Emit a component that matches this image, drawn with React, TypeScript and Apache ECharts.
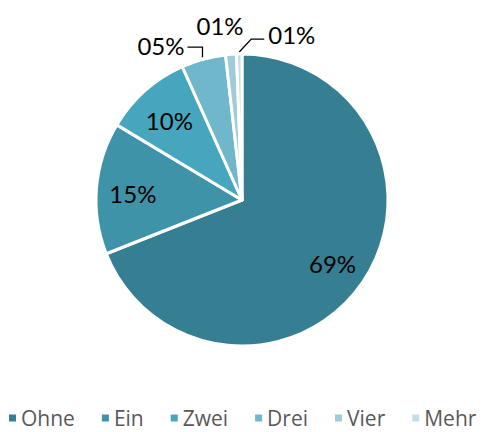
import React, { useEffect, useRef } from "react";
import * as echarts from "echarts";

const categories = ["Ohne", "Ein", "Zwei", "Drei", "Vier", "Mehr"];
const values = [69.0, 14.6, 9.7, 4.9, 1.2, 0.6];
const colors = ["#367e91", "#3e93a9", "#46a6bd", "#70b7cc", "#9fcbdb", "#c4dee7"];

const CX = 242;
const CY = 200;
const R = 146;

function midAngle(i: number): number {
  const total = values.reduce((a, b) => a + b, 0);
  let before = 0;
  for (let k = 0; k < i; k++) before += values[k];
  return ((before + values[i] / 2) / total) * 2 * Math.PI;
}
function pointAt(i: number, r: number): [number, number] {
  const a = midAngle(i);
  return [CX + r * Math.sin(a), CY - r * Math.cos(a)];
}

export default function App() {
  const ref = useRef<HTMLDivElement>(null);
  useEffect(() => {
    document.body.style.margin = "0";
    const chart = echarts.init(ref.current!, null, { renderer: "svg" });
    chart.setOption({
      animation: false,
      color: colors,
      legend: {
        bottom: -2,
        left: 2,
        icon: "rect",
        itemWidth: 9,
        itemHeight: 9,
        itemGap: 25,
        textStyle: { fontFamily: "Open Sans", fontSize: 21, lineHeight: 22, color: "#595959", padding: [0, 0, 0, -1] },
        data: categories,
      },
      series: [
        {
          type: "pie",
          center: [CX, CY],
          radius: R,
          startAngle: 90,
          clockwise: true,
          itemStyle: { borderColor: "#ffffff", borderWidth: 3 },
          label: {
            show: true,
            fontFamily: "Lato",
            fontSize: 24,
            color: "#000000",
            overflow: "none",
            width: 80,
            formatter: (p: any) => String(Math.round(p.percent)).padStart(2, "0") + "%",
          },
          labelLine: { show: true, lineStyle: { color: "#000000", width: 1.3 } },
          labelLayout: (p: any) => {
            const i = p.dataIndex;
            if (i <= 2) {
              const [x, y] = pointAt(i, R * 0.75);
              return { x, y: y + 2, align: "center", verticalAlign: "middle", labelLinePoints: [[x, y], [x, y], [x, y]] };
            }
            const [px, py] = pointAt(i, R);
            if (i === 3) {
              const ex = px - 16;
              const ey = py - 12;
              return {
                x: ex - 3,
                y: ey - 2,
                align: "right",
                verticalAlign: "middle",
                labelLinePoints: [[px - 1, py - 2], [px - 1, ey], [ex, ey]],
              };
            }
            if (i === 4) {
              return { x: px - 11, y: py - 29, align: "center", verticalAlign: "middle", labelLinePoints: [[px, py], [px, py], [px, py]] };
            }
            const ex = px + 25;
            const ey = py - 15;
            return {
              x: ex + 4,
              y: ey - 5,
              align: "left",
              verticalAlign: "middle",
              labelLinePoints: [[px, py - 2], [px + 12, ey], [ex, ey]],
            };
          },
          data: categories.map((name, i) => ({
            name,
            value: values[i],
            labelLine: { show: i === 3 || i === 5 },
          })),
        },
      ],
    });
    return () => chart.dispose();
  }, []);
  return <div ref={ref} style={{ width: 486, height: 432 }} />;
}
